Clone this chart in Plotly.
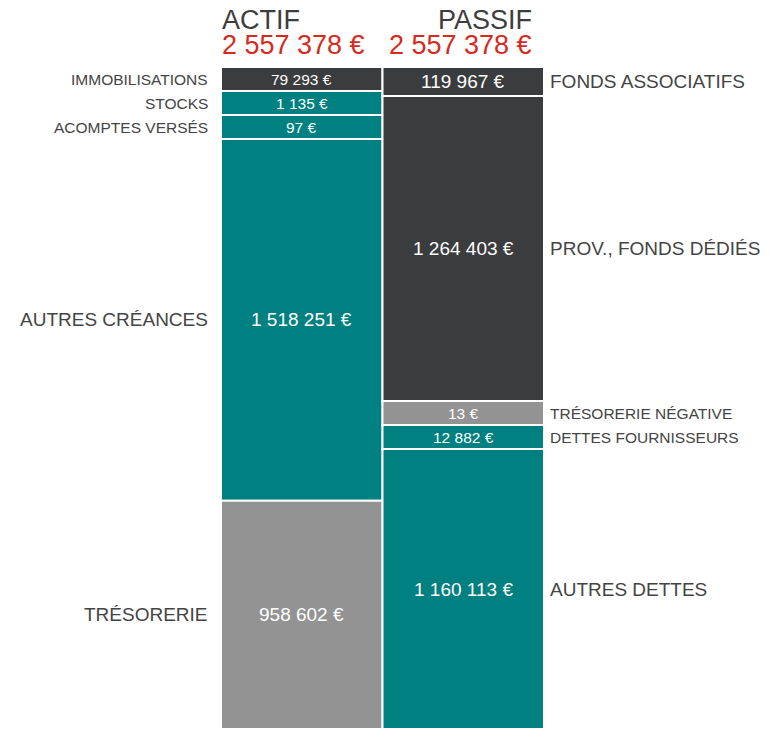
import plotly.graph_objects as go

# ---- data ----
actif_labels = ["IMMOBILISATIONS", "STOCKS", "ACOMPTES VERSÉS", "AUTRES CRÉANCES", "TRÉSORERIE"]
actif_values = [79293, 1135, 97, 1518251, 958602]
actif_colors = ["#3b3c3e", "#008080", "#008080", "#008080", "#939393"]

passif_labels = ["FONDS ASSOCIATIFS", "PROV., FONDS DÉDIÉS", "TRÉSORERIE NÉGATIVE",
                 "DETTES FOURNISSEURS", "AUTRES DETTES"]
passif_values = [119967, 1264403, 13, 12882, 1160113]
passif_colors = ["#3b3c3e", "#3b3c3e", "#939393", "#008080", "#008080"]

column_titles = ["ACTIF", "PASSIF"]

MIN_SHARE = 0.0363  # minimum visual share of a segment
FONT = "Liberation Sans, Arial, Helvetica, sans-serif"
LABEL_COLOR = "#444444"
RED = "#d52b1e"


def fmt(v):
    return f"{v:,}".replace(",", " ") + " €"


def display_heights(values):
    total = sum(values)
    small = [v < MIN_SHARE * total for v in values]
    rest = sum(v for v, s in zip(values, small) if not s)
    remaining = total * (1 - sum(small) * MIN_SHARE)
    return [MIN_SHARE * total if s else v / rest * remaining for v, s in zip(values, small)], small


fig = go.Figure()
annotations = []

for col, (labels, values, colors) in enumerate([
        (actif_labels, actif_values, actif_colors),
        (passif_labels, passif_values, passif_colors)]):
    heights, small = display_heights(values)
    bases = []
    acc = 0
    for h in heights:
        bases.append(acc)
        acc += h
    fig.add_trace(go.Bar(
        x=[col] * len(values), y=heights, base=bases, width=1,
        marker=dict(color=colors, line=dict(color="white", width=2)),
        hoverinfo="skip", showlegend=False))
    for lab, v, h, b, s in zip(labels, values, heights, bases, small):
        yc = b + h / 2
        fs_val = 15.5 if s else 19
        annotations.append(dict(
            x=col, y=yc, xref="x", yref="y", text=fmt(v), showarrow=False,
            font=dict(family=FONT, size=fs_val, color="white"),
            xanchor="center", yanchor="middle"))
        if col == 0:
            annotations.append(dict(
                x=0, y=yc, xref="paper", yref="y", text=lab, showarrow=False,
                font=dict(family=FONT, size=fs_val, color=LABEL_COLOR),
                xanchor="right", yanchor="middle", xshift=-11))
        else:
            annotations.append(dict(
                x=1, y=yc, xref="paper", yref="y", text=lab, showarrow=False,
                font=dict(family=FONT, size=fs_val, color=LABEL_COLOR),
                xanchor="left", yanchor="middle", xshift=4))

total = sum(actif_values)

# headers
annotations += [
    dict(x=0, y=1, xref="paper", yref="paper", text=column_titles[0], showarrow=False,
         font=dict(family=FONT, size=27, color="#3d3d3d"),
         xanchor="left", yanchor="middle", yshift=67 - 20, xshift=-1),
    dict(x=0, y=1, xref="paper", yref="paper", text=fmt(sum(actif_values)), showarrow=False,
         font=dict(family=FONT, size=27, color=RED),
         xanchor="left", yanchor="middle", yshift=67 - 45, xshift=-1),
    dict(x=1, y=1, xref="paper", yref="paper", text=column_titles[1], showarrow=False,
         font=dict(family=FONT, size=27, color="#3d3d3d"),
         xanchor="right", yanchor="middle", yshift=67 - 20, xshift=-10),
    dict(x=1, y=1, xref="paper", yref="paper", text=fmt(sum(passif_values)), showarrow=False,
         font=dict(family=FONT, size=27, color=RED),
         xanchor="right", yanchor="middle", yshift=67 - 45, xshift=-10),
]

fig.update_layout(
    width=769, height=729,
    margin=dict(l=221, r=225, t=67, b=0, pad=0),
    paper_bgcolor="white", plot_bgcolor="white",
    barmode="overlay", bargap=0,
    xaxis=dict(range=[-0.5, 1.5], visible=False, fixedrange=True),
    yaxis=dict(range=[total, 0], visible=False, fixedrange=True),
    annotations=annotations,
    font=dict(family=FONT),
    hovermode=False,
)

# remove the default page margin so the figure sits at the window's top-left corner
fig.write_html("out.html",
               config={"displayModeBar": False, "staticPlot": True},
               post_script="document.body.style.margin='0';document.body.style.overflow='hidden';")
